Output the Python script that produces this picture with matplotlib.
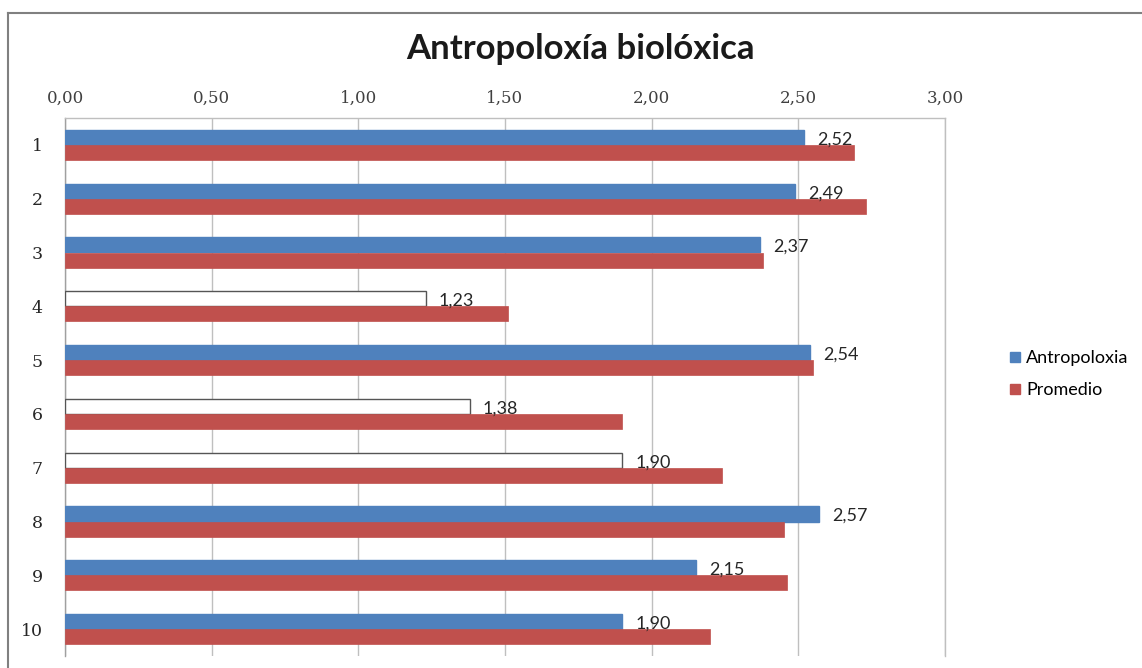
import matplotlib.pyplot as plt
import numpy as np
from matplotlib.lines import Line2D

# datos
categorias = ["1", "2", "3", "4", "5", "6", "7", "8", "9", "10"]
antropoloxia = [2.52, 2.49, 2.37, 1.23, 2.54, 1.38, 1.90, 2.57, 2.15, 1.90]
promedio = [2.69, 2.73, 2.38, 1.51, 2.55, 1.90, 2.24, 2.45, 2.46, 2.20]
sin_relleno = ["4", "6", "7"]  # barras de Antropoloxia sin color
ticks_x = [0.0, 0.5, 1.0, 1.5, 2.0, 2.5, 3.0]

azul = "#4F81BD"
rojo = "#C0504D"

fig = plt.figure(figsize=(11.42, 6.68), dpi=100)
ax = fig.add_axes([65 / 1142, 1 - 656 / 668, 880 / 1142, 538 / 668])

y = np.arange(len(categorias))
h = 0.28

caras = ["white" if c in sin_relleno else azul for c in categorias]
bordes = ["#555555" if c in sin_relleno else azul for c in categorias]
ax.barh(y - h / 2, antropoloxia, height=h, color=caras, edgecolor=bordes,
        linewidth=1.0, zorder=3, label="Antropoloxia")
ax.barh(y + h / 2, promedio, height=h, color=rojo, edgecolor=rojo,
        linewidth=0.5, zorder=3, label="Promedio")

for yi, v in zip(y, antropoloxia):
    ax.text(v + 0.045, yi - 0.1, f"{v:.2f}".replace(".", ","), va="center",
            ha="left", fontsize=13, color="#262626", family="Lato", zorder=4)

ax.set_xlim(0, 3.0)
ax.set_ylim(len(categorias) - 0.5, -0.5)
ax.set_xticks(ticks_x)
ax.set_xticklabels([f"{t:.2f}".replace(".", ",") for t in ticks_x],
                   family="DejaVu Serif", fontsize=12, color="#404040")
ax.set_yticks(y)
ax.set_yticklabels(categorias, family="DejaVu Serif", fontsize=12.5, color="#262626")
ax.xaxis.tick_top()
ax.tick_params(axis="x", length=0, pad=8)
ax.tick_params(axis="y", length=0, pad=16)

ax.grid(axis="x", color="#BFBFBF", linewidth=1.0, zorder=0)
for s in ["top", "right", "left"]:
    ax.spines[s].set_color("#BFBFBF")
    ax.spines[s].set_linewidth(1.0)
ax.spines["left"].set_color("#A0A0A0")
ax.spines["bottom"].set_visible(False)

fig.text(580 / 1142, 1 - 49 / 668, "Antropoloxía biolóxica", ha="center",
         va="center", fontsize=25, fontweight="bold", family="Lato", color="#1a1a1a")

handles = [Line2D([], [], marker="s", linestyle="", markersize=7, color=azul),
           Line2D([], [], marker="s", linestyle="", markersize=7, color=rojo)]
fig.legend(handles, ["Antropoloxia", "Promedio"], loc="center left",
           bbox_to_anchor=(990 / 1142, 1 - 374 / 668), frameon=False,
           prop={"family": "Lato", "size": 13}, handletextpad=0.1,
           labelspacing=0.9, handlelength=1.0)

# marco exterior (solo superior e izquierdo visibles)
fig.add_artist(Line2D([8 / 1142, 1], [1 - 13 / 668, 1 - 13 / 668],
                      transform=fig.transFigure, color="#808080", linewidth=1.5))
fig.add_artist(Line2D([8 / 1142, 8 / 1142], [0, 1 - 13 / 668],
                      transform=fig.transFigure, color="#808080", linewidth=1.5))

fig.savefig("out.png", dpi=100)
